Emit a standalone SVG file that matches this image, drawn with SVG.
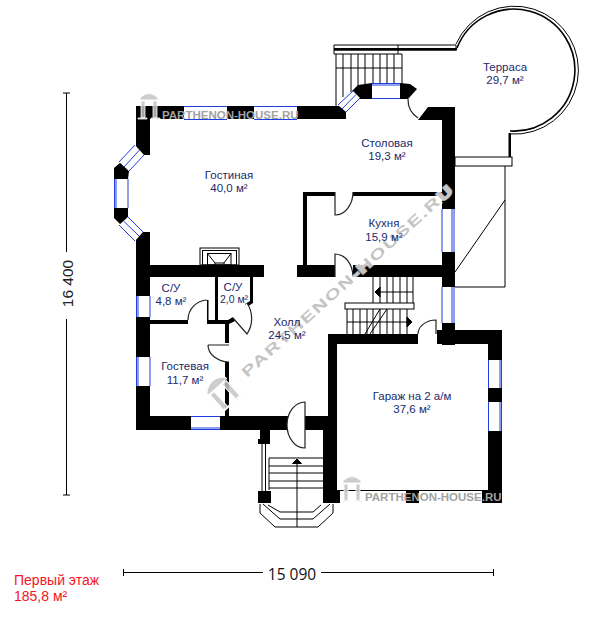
<svg xmlns="http://www.w3.org/2000/svg" width="600" height="619" viewBox="0 0 600 619">
<defs>
<style>
text{font-family:"Liberation Sans",Arial,sans-serif}
.lbl{font-size:11.5px;fill:#1b2a6b;text-anchor:middle}
.w{fill:#000}
.win{fill:#fff;stroke:none}
.bl{stroke:#1f3fe0;stroke-width:1;fill:none}
.t{stroke:#000;stroke-width:1;fill:none}
.door{stroke:#222;stroke-width:1.2;fill:#fff}
.arc{stroke:#222;stroke-width:1.2;fill:none}
.dim{stroke:#000;stroke-width:1;fill:none}
.wm{font-size:11.500px;font-weight:bold;fill:#a2a2a2}
.wr{font-size:14.500px;font-weight:bold;letter-spacing:1.15px}
.wrh{fill:#fff;stroke:#fff;stroke-width:2.200;stroke-opacity:.7}
.wrf{fill:#bcbcbc;fill-opacity:.9}
.logo{fill:#c4c4c4;fill-opacity:.85;stroke:#fff;stroke-width:.8}
</style>
<g id="pi"><path d="M2 6 Q11 -3 20 6 L20 8 L2 8Z M3 9H7V26H3Z M15 9H19V26H15Z M0 26H9V27H0Z M13 26H22V27H13Z"/></g>
</defs>
<g id="terrace">
<path d="M456 44A64 64 0 1 1 510 134" fill="#fff" stroke="#000" stroke-width="1"/>
<path d="M457 48A61 61 0 1 1 510 131" fill="none" stroke="#000" stroke-width="1.6"/>
<path d="M334 45H456V50H334Z" fill="#fff" stroke="#000" stroke-width="1"/>
<rect x="334" y="48" width="123" height="2.5" class="w"/>
<path d="M398 45V54M334 50V54H402" class="t"/>
<path d="M508.500 133H511V157H508.500Z" class="w"/>
<rect x="455" y="157" width="57" height="9" fill="#fff" stroke="#000"/>
<path d="M505 166V287H455M505 200L455 272" class="t"/>
</g>
<g id="stairs-top" class="t">
<path d="M336 54V106M402 54V85M336 68H402M343 54V97M351 54V92M358 54V88M365 54V84M373 54V84M380 54V84M387 54V84M394 54V84"/>
</g>
<g id="stairs-center" class="t">
<path d="M373 277V303M380 277V303M387 277V303M393 277V303M400 277V303M407 277V303M413 277V303M378 292H413"/>
<path d="M375 292L380 287V297Z" fill="#000"/>
<rect x="345" y="303" width="69" height="6" fill="#fff"/>
<path d="M347 309V334M353 309V334M360 309V334M367 309V334M373 309V334M380 309V334M387 309V334M393 309V334M400 309V334M407 309V334M347 322H408"/>
<path d="M412 322L407 317V327Z" fill="#000"/>
<path d="M365 334L380 309M370 334L387 309"/>
</g>
<g id="walls" class="w">
<path d="M136 106H346V119H150V155H136Z"/>
<path d="M136 232H150V265H264V277H150V416H328V334H337V503H323V430H136Z"/>
<path d="M144 155L136 145H150V155Z"/>
<path d="M136 241L144 232H150V241Z"/>
<path d="M114 168L121 162L129 171L128 179H114Z"/>
<path d="M114 208H128V217L121 225L114 218Z"/>
<path d="M338 119L346 106V119Z"/>
<path d="M352 91L358 85L372 83V99H360Z"/>
<path d="M400 83L410 84L417 89L408 99H400Z"/>
<path d="M428 107H455V265H442V120H418Z"/>
<path d="M442 196H455V345H442V277H353V265H442Z"/>
<path d="M297 265H335V277H297Z"/>
<rect x="303" y="192" width="4" height="73"/>
<path d="M303 192H335V196H303ZM353 192H442V196H353Z"/>
<path d="M215 277H218V322H215ZM250 277H253V303L247 307L245 304L250 301Z"/>
<path d="M150 320H188V324H150ZM207 300H208.500V320H228L233 317L235 321L229 324H207Z"/>
<path d="M225 320H229V343H225ZM225 362H229V416H225Z"/>
<path d="M328 334H418V344H337V416H328ZM437 330H502V503H488V344H437Z"/>
<path d="M337 490H488V503H337Z"/>
<path d="M260 430H270V444H260ZM258 439H270V444H258Z"/>
<path d="M258 491H271V503H258Z"/>
</g>
<g id="windows">
<rect x="184" y="106" width="43" height="13.500" class="win"/><path d="M184 106.500H227M184 119.500H227" class="bl"/>
<rect x="254" y="106" width="43" height="13.500" class="win"/><path d="M254 106.500H297M254 119.500H297" class="bl"/>
<path d="M135 145L144 155L129 171L119 162Z" class="win"/><path d="M135 145L119 162M139.500 150L124 167M144 155L129 171" class="bl"/>
<rect x="114" y="179" width="14" height="29" class="win"/><path d="M114.500 179V208M116 179V208M128 179V208" class="bl"/>
<path d="M128 217L143 232L135 241L119 225Z" class="win"/><path d="M128 217L143 232M123.500 221L139 236M119 225L135 241" class="bl"/>
<path d="M338 105L353 91L360 98L346 112Z" class="win"/><path d="M338 105L353 91M342 109L356 94.500M346 112L360 98" class="bl"/>
<rect x="372" y="83" width="28" height="16" class="win"/><path d="M372 83.500H400M372 85H400M372 98.500H400" class="bl"/>
<rect x="442" y="209" width="13" height="43" class="win"/><path d="M442 209V252M452 209V252M454 209V252" class="bl"/>
<rect x="442" y="287" width="13" height="36" class="win"/><path d="M442 287V323M452 287V323M454 287V323" class="bl"/>
<rect x="136" y="296" width="14" height="21" class="win"/><path d="M136.500 296V317M138 296V317M150 296V317" class="bl"/>
<rect x="136" y="357" width="14" height="29" class="win"/><path d="M136.500 357V386M138 357V386M150 357V386" class="bl"/>
<rect x="191" y="416" width="29" height="14" class="win"/><path d="M191 416.500H220M191 428H220M191 429.500H220" class="bl"/>
<rect x="488" y="360" width="14" height="28" class="win"/><path d="M488.500 360V388M500 360V388M501.500 360V388" class="bl"/>
<rect x="488" y="402" width="14" height="29" class="win"/><path d="M488.500 402V431M500 402V431M501.500 402V431" class="bl"/>
<path d="M340 491H406V503H340ZM419 491H482V503H419Z" fill="#fff"/>
<path d="M337 490.500H488" class="t"/>
</g>
<g id="fireplace" class="t">
<rect x="200" y="248" width="39" height="17" fill="#fff"/>
<rect x="202.500" y="250.500" width="34" height="14.500"/>
<rect x="207.500" y="253.500" width="23.500" height="11.500"/>
<path d="M207.500 253.500L215 263M231 253.500L224 263M215 263H224V265M215 263V265"/>
</g>
<g id="doors">
<path d="M335 192V215A18 23 0 0 0 353 192" class="door"/>
<path d="M335 277V254A18 23 0 0 1 353 277" class="door"/>
<path d="M408 99A22 22 0 0 0 418 118" class="arc"/>
<path d="M418 334A18 14 0 0 1 436 320V334" class="door"/>
<path d="M188 320A20 20 0 0 1 207 300" class="arc"/>
<path d="M247 303A28 28 0 0 1 247 334L233 318" class="door"/>
<path d="M208 345H229M208 345A22 17 0 0 0 229 362" class="arc"/>
<path d="M305 402A18 23 0 0 0 305 448Z" class="door"/>
</g>
<g id="entrance" class="t">
<path d="M269 458H323M269 466H323M269 473H323M269 481H323M269 488H323M269 458V490M297 459V527"/>
<path d="M297 459L292.500 463.500H301.500Z" fill="#000"/>
<path d="M262 444V491M265.500 444V491"/>
<path d="M260 504V513L275 527H318L333 513V504M263 504L280 519H313L330 504M268 505L280 512H313L321 505"/>
</g>
<g id="watermark">
<use href="#pi" class="logo" transform="translate(138,92)"/>
<text class="wm" x="162" y="119">PARTHENON-HOUSE.RU</text>
<use href="#pi" class="logo" transform="translate(341,475)"/>
<text class="wm" x="365" y="501">PARTHENON-HOUSE.RU</text>
<use href="#pi" class="logo" transform="translate(200,390) rotate(-42) scale(1.36,1.18)"/>
<text class="wr wrh" transform="translate(247,378) rotate(-42) scale(1.45,1)">PARTHENON-HOUSE.RU</text>
<text class="wr wrf" transform="translate(247,378) rotate(-42) scale(1.45,1)">PARTHENON-HOUSE.RU</text>
</g>
<g id="labels">
<g id="room-living"><text class="lbl" x="229" y="179">Гостиная</text><text class="lbl" x="229" y="192">40,0 м²</text></g>
<g id="room-dining"><text class="lbl" x="387" y="147">Столовая</text><text class="lbl" x="387" y="160">19,3 м²</text></g>
<g id="room-terrace"><text class="lbl" x="505" y="71">Терраса</text><text class="lbl" x="505" y="84">29,7 м²</text></g>
<g id="room-kitchen"><text class="lbl" x="384" y="227">Кухня</text><text class="lbl" x="384" y="241">15,9 м²</text></g>
<g id="room-wc1"><text class="lbl" x="171" y="292">С/У</text><text class="lbl" x="171" y="305">4,8 м²</text></g>
<g id="room-wc2"><text class="lbl" x="233" y="291">С/У</text><text class="lbl" x="234" y="303" style="font-size:10.5px">2,0 м²</text></g>
<g id="room-hall"><text class="lbl" x="287" y="326">Холл</text><text class="lbl" x="287" y="339">24,5 м²</text></g>
<g id="room-guest"><text class="lbl" x="185" y="370">Гостевая</text><text class="lbl" x="185" y="384">11,7 м²</text></g>
<g id="room-garage"><text class="lbl" x="412" y="400">Гараж на 2 а/м</text><text class="lbl" x="412" y="413">37,6 м²</text></g>
</g>
<g id="dimensions">
<path d="M66.500 93V252M66.500 319V495M63 93H70M63 495H70" class="dim"/>
<text transform="translate(73,283.500) rotate(-90)" text-anchor="middle" style="font-size:15.500px;fill:#222">16 400</text>
<path d="M123.500 572.500H263M321 572.500H493.500M123.500 569V576M493.500 569V576" class="dim"/>
<text x="292" y="580" text-anchor="middle" style="font-family:'Open Sans',sans-serif;font-size:15.500px;fill:#111">15 090</text>
</g>
<g id="floor-title">
<text x="14" y="585" style="font-size:14px;fill:#f5141e">Первый этаж</text>
<text x="14" y="601" style="font-size:14px;fill:#f5141e">185,8 м²</text>
</g>
</svg>
